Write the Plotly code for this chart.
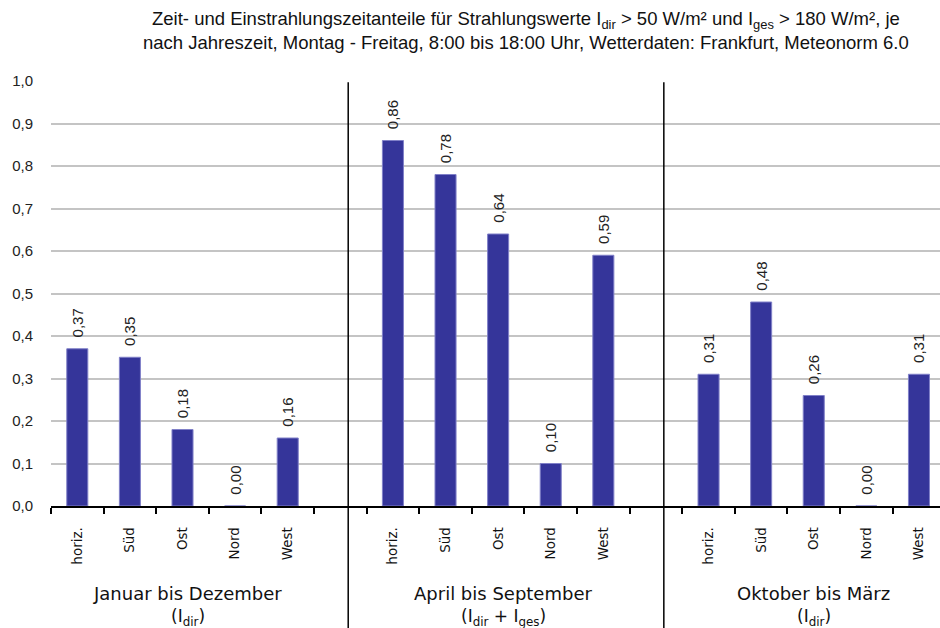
import plotly.graph_objects as go

# Data: share of time / irradiation per orientation and season
directions = ["horiz.", "Süd", "Ost", "Nord", "West"]
seasons = ["Januar bis Dezember", "April bis September", "Oktober bis März"]
season_notes = ["(I<sub>dir</sub>)", "(I<sub>dir</sub> + I<sub>ges</sub>)", "(I<sub>dir</sub>)"]
values_year = [0.37, 0.35, 0.18, 0.00, 0.16]
values_summer = [0.86, 0.78, 0.64, 0.10, 0.59]
values_winter = [0.31, 0.48, 0.26, 0.00, 0.31]
y_ticks = [0.0, 0.1, 0.2, 0.3, 0.4, 0.5, 0.6, 0.7, 0.8, 0.9, 1.0]

series = [values_year, values_summer, values_winter]
slots_per_group = len(directions) + 1  # one empty slot after each season

x_pos, y_val, x_text = [], [], []
for g, vals in enumerate(series):
    for d, v in enumerate(vals):
        x_pos.append(g * slots_per_group + d)
        y_val.append(v)
        x_text.append(directions[d])

BAR = "#35359a"
fig = go.Figure()
fig.add_trace(go.Bar(
    x=x_pos, y=y_val, width=0.4,
    marker=dict(color=BAR, line=dict(color="#8080c8", width=1)),
    texttemplate="\u00a0\u00a0%{y:.2f}",
    textposition="outside", textangle=-90, constraintext="none",
    textfont=dict(family="Liberation Sans, Arial", size=15, color="#222"),
    cliponaxis=False, showlegend=False, hoverinfo="skip",
))

n_slots = slots_per_group * len(series) - 1
fig.update_xaxes(
    range=[-0.5, n_slots - 0.6],
    tickmode="array", tickvals=x_pos, ticktext=x_text,
    tickangle=-90, ticks="", ticklabelstandoff=14,
    tickfont=dict(family="DejaVu Sans, Verdana", size=13.5, color="#111"),
    showgrid=False, zeroline=False,
    showline=True, linecolor="black", linewidth=1.5,
    minor=dict(tickmode="linear", tick0=-0.5, dtick=1, ticks="outside",
               ticklen=6, tickwidth=1.5, tickcolor="black", showgrid=False),
)
fig.update_yaxes(
    range=[0, 1.0], tickmode="array", tickvals=y_ticks, tickformat=".1f",
    tickfont=dict(family="Liberation Sans, Arial", size=15, color="#222"),
    showgrid=True, gridcolor="#c4c4c4", gridwidth=1.5,
    zeroline=False, showline=False, ticks="", ticklabelstandoff=17,
)

# season separators
shapes = []
for g in range(1, len(series)):
    xs = g * slots_per_group - 0.85
    shapes.append(dict(type="line", xref="x", yref="paper", x0=xs, x1=xs,
                       y0=-0.3, y1=0.997, line=dict(color="black", width=1.5)))

annotations = []
label_centers = [2.1, 8.1, 14.0]
for g, name in enumerate(seasons):
    annotations.append(dict(x=label_centers[g], y=-0.205, xref="x", yref="paper",
                            text=name, showarrow=False, yanchor="middle",
                            font=dict(family="DejaVu Sans, Verdana", size=18, color="#111")))
    annotations.append(dict(x=label_centers[g], y=-0.262, xref="x", yref="paper",
                            text=season_notes[g], showarrow=False, yanchor="middle",
                            font=dict(family="DejaVu Sans, Verdana", size=17, color="#111")))

title_lines = [
    "Zeit- und Einstrahlungszeitanteile für Strahlungswerte I<sub>dir</sub> > 50 W/m² und I<sub>ges</sub> > 180 W/m², je",
    "nach Jahreszeit, Montag - Freitag, 8:00 bis 18:00 Uhr, Wetterdaten: Frankfurt, Meteonorm 6.0",
]
for i, line in enumerate(title_lines):
    annotations.append(dict(x=0.534, y=1.1435 - i * 0.054, xref="paper", yref="paper",
                            text=line, showarrow=False, yanchor="middle",
                            font=dict(family="Liberation Sans, Arial", size=18.5, color="#111")))

fig.update_layout(
    width=940, height=628,
    margin=dict(l=51, r=0, t=81, b=122),
    plot_bgcolor="white", paper_bgcolor="white",
    separators=", ",
    shapes=shapes, annotations=annotations,
    bargap=0.6,
)

fig.write_html("out.html")
